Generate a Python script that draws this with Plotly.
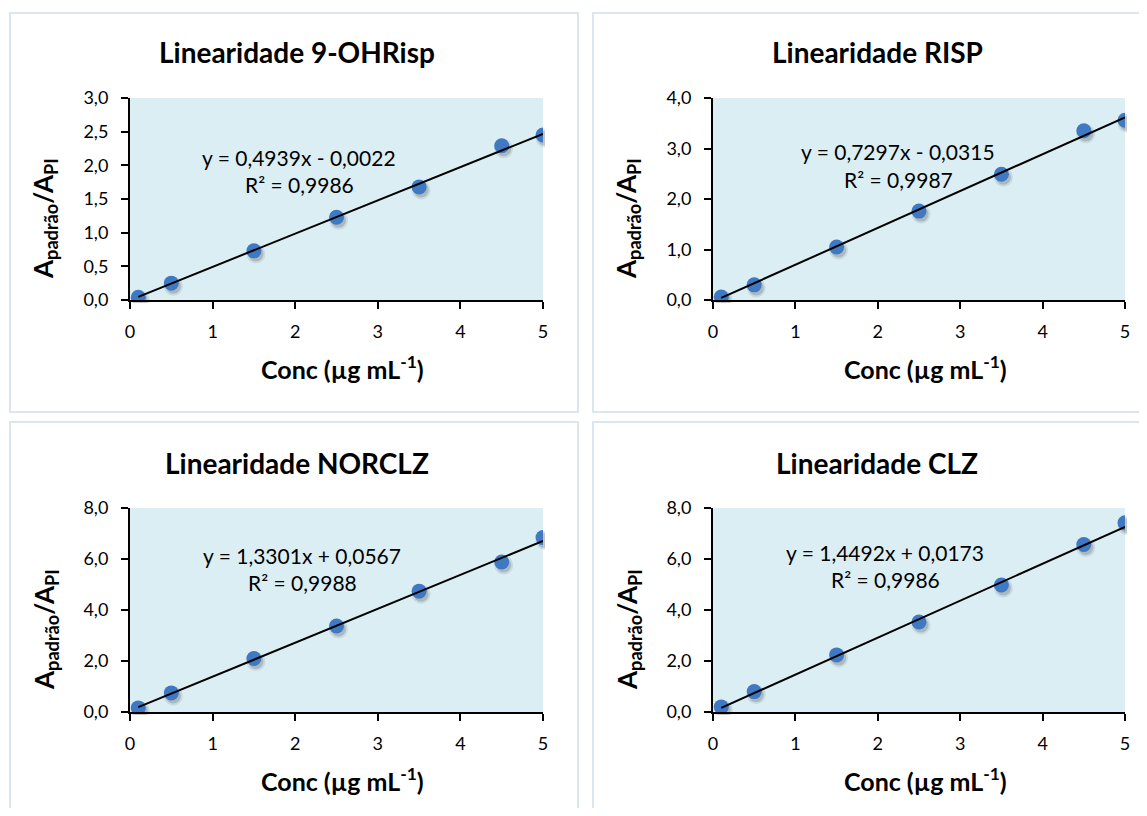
import plotly.graph_objects as go

W, H = 1131, 800
OX, OY = 8, 8  # body margin offset of the page

conc = [0.1, 0.5, 1.5, 2.5, 3.5, 4.5, 5.0]
titles = ["Linearidade 9-OHRisp", "Linearidade RISP", "Linearidade NORCLZ", "Linearidade CLZ"]
y_9ohrisp = [0.04, 0.25, 0.73, 1.23, 1.68, 2.29, 2.45]
y_risp = [0.06, 0.30, 1.05, 1.76, 2.49, 3.35, 3.56]
y_norclz = [0.16, 0.75, 2.10, 3.37, 4.74, 5.88, 6.84]
y_clz = [0.20, 0.80, 2.24, 3.53, 4.98, 6.57, 7.42]
slopes = [0.4939, 0.7297, 1.3301, 1.4492]
intercepts = [-0.0022, -0.0315, 0.0567, 0.0173]
r2 = [0.9986, 0.9987, 0.9988, 0.9986]
y_max = [3.0, 4.0, 8.0, 8.0]
y_dtick = [0.5, 1.0, 2.0, 2.0]
series = [y_9ohrisp, y_risp, y_norclz, y_clz]

FONT = "Lato"
BG = "#dbeef4"
MARK = "#3f78c3"

# plot areas in reference pixels (left, right, top, bottom)
areas = [(130, 543, 98, 300), (713, 1125, 98, 300), (130, 543, 508, 712), (713, 1125, 508, 712)]
panels = [(10, 578, 13, 412), (593, 1160, 13, 412), (10, 578, 422, 830), (593, 1160, 422, 830)]
eq_pos = [(299, 157, 185), (898, 152, 179), (302, 555, 582), (885, 552, 579)]
title_pos = [(297, 52), (877, 52), (297, 463), (877, 463)]
SH_DX, SH_DY = 2, 3  # shadow offset in pixels


def px(x):
    return (x - OX) / W


def py(y):
    return 1 - (y - OY) / H


fig = go.Figure()
annotations = []
shapes = []


def fmt(v):
    return f"{abs(v):.4f}".replace(".", ",")


def ann(text, x, y, size, angle=0):
    annotations.append(dict(text=text, x=px(x), y=py(y), xref="paper", yref="paper",
                            xanchor="center", yanchor="middle", showarrow=False,
                            textangle=angle, font=dict(family=FONT, size=size, color="black")))


def aid(n):
    return "" if n == 1 else str(n)


for i in range(4):
    l, r, t, b = areas[i]
    s_n, m_n = i + 1, i + 5
    sx, sy = "x" + aid(s_n), "y" + aid(s_n)
    mx, my = "x" + aid(m_n), "y" + aid(m_n)
    # shadow subplot (hidden axes, shifted domain)
    fig.add_trace(go.Scatter(x=conc, y=series[i], mode="markers", xaxis=sx, yaxis=sy,
                             marker=dict(size=19, color="rgba(40,40,40,0.10)", line=dict(width=0)),
                             hoverinfo="skip", showlegend=False))
    fig.add_trace(go.Scatter(x=conc, y=series[i], mode="markers", xaxis=sx, yaxis=sy,
                             marker=dict(size=15, color="rgba(40,40,40,0.18)", line=dict(width=0)),
                             hoverinfo="skip", showlegend=False))
    fig.update_layout(**{
        "xaxis" + aid(s_n): dict(domain=[px(l + SH_DX), px(r + SH_DX)], range=[0, 5], visible=False,
                                 anchor=sy),
        "yaxis" + aid(s_n): dict(domain=[py(b + SH_DY), py(t + SH_DY)], range=[0, y_max[i]],
                                 visible=False, anchor=sx),
    })
    # main subplot
    fig.add_trace(go.Scatter(x=conc, y=series[i], mode="markers", xaxis=mx, yaxis=my,
                             marker=dict(size=15, color=MARK, line=dict(width=0)),
                             showlegend=False))
    xs = [conc[0], conc[-1]]
    ys = [slopes[i] * x + intercepts[i] for x in xs]
    fig.add_trace(go.Scatter(x=xs, y=ys, mode="lines", xaxis=mx, yaxis=my,
                             line=dict(color="black", width=2), showlegend=False))
    axx = dict(domain=[px(l), px(r)], range=[0, 5], dtick=1, tick0=0, anchor=my,
               showline=True, linecolor="black", linewidth=2, ticks="outside", ticklen=7,
               tickcolor="black", tickwidth=2, showgrid=False, zeroline=False, automargin=False,
               ticklabelstandoff=7, tickfont=dict(family=FONT, size=18, color="black"))
    axy = dict(domain=[py(b), py(t)], range=[0, y_max[i]], dtick=y_dtick[i], tick0=0, anchor=mx,
               showline=True, linecolor="black", linewidth=2, ticks="outside", ticklen=7,
               tickcolor="black", tickwidth=2, showgrid=False, zeroline=False, tickformat=".1f",
               automargin=False, ticklabelstandoff=9, tickfont=dict(family=FONT, size=18, color="black"))
    fig.update_layout(**{"xaxis" + aid(m_n): axx, "yaxis" + aid(m_n): axy})
    shapes.append(dict(type="rect", xref="paper", yref="paper", x0=px(l), x1=px(r), y0=py(b), y1=py(t),
                       fillcolor=BG, line=dict(width=0), layer="below"))
    pl, pr, pt, pb = panels[i]
    shapes.append(dict(type="rect", xref="paper", yref="paper", x0=px(pl), x1=px(pr), y0=py(pb), y1=py(pt),
                       line=dict(color="#dce6f1", width=2), fillcolor="rgba(0,0,0,0)", layer="below"))
    cx = (l + r) / 2
    tx, ty = title_pos[i]
    ann(f"<b>{titles[i]}</b>", tx, ty, 28)
    ann("<b>Conc (µg mL<sup>-1</sup>)</b>", cx + 6, b + 67, 25)
    ann("<b>A<sub>padrão</sub>/A<sub>PI</sub></b>", l - 85, (t + b) / 2 + 20, 26, -90)
    sign = "-" if intercepts[i] < 0 else "+"
    ex, ey1, ey2 = eq_pos[i]
    ann(f"y = {fmt(slopes[i])}x {sign} {fmt(intercepts[i])}", ex, ey1, 21)
    ann(f"R² = {fmt(r2[i])}", ex, ey2, 21)

fig.update_layout(width=W, height=H, margin=dict(l=0, r=0, t=0, b=0, autoexpand=False),
                  paper_bgcolor="white", plot_bgcolor="rgba(0,0,0,0)",
                  separators=",.", shapes=shapes, annotations=annotations,
                  font=dict(family=FONT, color="black"))

fig.write_html("out.html")
